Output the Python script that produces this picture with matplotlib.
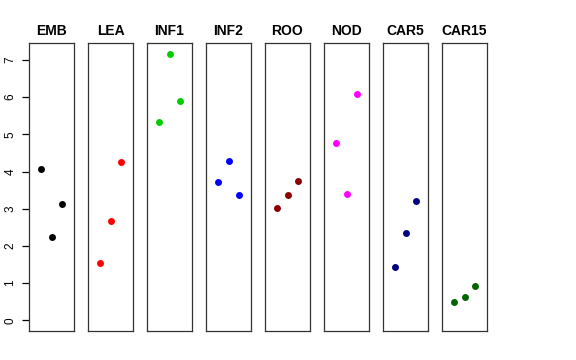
import matplotlib
matplotlib.use('Agg')
import matplotlib.pyplot as plt

plt.rcParams['font.family'] = ['Liberation Sans', 'DejaVu Sans']

# -----------------------------
# DATA
# -----------------------------
groups = ['EMB', 'LEA', 'INF1', 'INF2', 'ROO', 'NOD', 'CAR5', 'CAR15']
colors = ['black', 'red', '#00CD00', 'blue', '#8B0000', 'magenta', '#000080', '#006400']
values = [
    [4.07, 2.24, 3.14],
    [1.54, 2.66, 4.25],
    [5.34, 7.17, 5.91],
    [3.72, 4.29, 3.36],
    [3.02, 3.36, 3.74],
    [4.77, 3.39, 6.08],
    [1.43, 2.36, 3.20],
    [0.49, 0.64, 0.92],
]
yticks = [0, 1, 2, 3, 4, 5, 6, 7]

# -----------------------------
# PLOT
# -----------------------------
W, H = 576, 360
fig = plt.figure(figsize=(W / 100, H / 100), dpi=100)

ymax = max(max(v) for v in values)
pad = 0.04 * ymax

for i, (name, col, vals) in enumerate(zip(groups, colors, values)):
    left = 29 + 59 * i
    ax = fig.add_axes([left / W, 29 / H, 45 / W, 288 / H])
    xs = list(range(1, len(vals) + 1))
    ax.plot(xs, vals, 'o', color=col, markersize=5, markeredgewidth=0)
    ax.set_xlim(0 - 0.16, 4 + 0.16)
    ax.set_ylim(0 - pad, ymax + pad)
    ax.set_xticks([])
    ax.set_title(name, fontweight='bold', fontsize=10, pad=6)
    for s in ax.spines.values():
        s.set_color('#333333')
        s.set_linewidth(0.9)
    if i == 0:
        ax.set_yticks(yticks)
        ax.set_yticklabels([str(t) for t in yticks], rotation=90, va='center', fontsize=8.5)
        ax.tick_params(axis='y', length=5, width=0.9, pad=4)
    else:
        ax.set_yticks([])

fig.savefig('out.png', dpi=100)
plt.close(fig)
